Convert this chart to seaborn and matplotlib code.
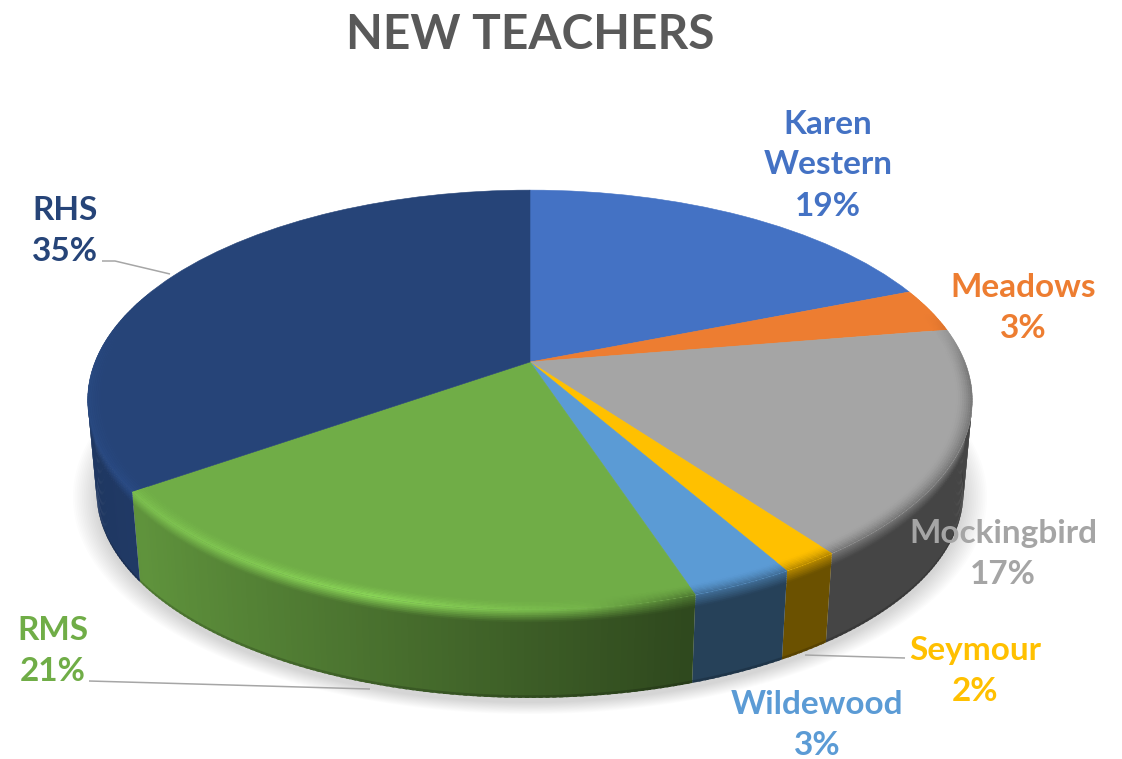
import numpy as np
import matplotlib
matplotlib.use("Agg")
import matplotlib.pyplot as plt
import matplotlib.transforms as mtransforms
from matplotlib.collections import PolyCollection
import seaborn as sns

# --- Data ---
SCHOOLS = ["Karen\nWestern", "Meadows", "Mockingbird", "Seymour", "Wildewood", "RMS", "RHS"]
SHARES = [19.0, 3.4, 17.5, 1.8, 3.2, 20.4, 34.7]
SHARE_LABELS = ["19%", "3%", "17%", "2%", "3%", "21%", "35%"]
COLORS = ["#4472C4", "#ED7D31", "#A5A5A5", "#FFC000", "#5B9BD5", "#70AD47", "#264478"]
TITLE = "NEW TEACHERS"

# label centres, picture pixels
LABEL_X = [828, 1023, 1003, 975, 817, 53, 65]
LABEL_Y = [165, 308, 554, 671, 725, 651, 231]
LEADERS = [
    ([102, 115, 170], [261, 261, 274]),
    ([89, 370], [681, 689]),
    ([805, 905], [655, 658]),
]

# --- Disk geometry, picture pixels ---
CX, CY = 530.0, 362.0
RX, RY, PERSP = 435.0, 203.0, 0.181
BOTTOM_SCALE, BOTTOM_DROP = 0.98, 93.0
BEVEL = 0.035


def disk_to_px(x, y, z=0.0):
    # z=0 is the top face, z=1 the bottom one
    w = 1 + PERSP * y
    px = RX * x / w
    py = -RY * y / w
    scale = 1 - (1 - BOTTOM_SCALE) * z
    return CX + px * scale, CY + py * scale + BOTTOM_DROP * z


class DiskTransform(mtransforms.Transform):
    input_dims = 2
    output_dims = 2
    is_separable = False
    has_inverse = False

    def transform_non_affine(self, values):
        values = np.asarray(values)
        px, py = disk_to_px(values[:, 0], values[:, 1])
        return np.column_stack([px, py])


def lerp(a, b, t):
    return a + (b - a) * t


sns.set_theme(style="white")
plt.rcParams["font.family"] = ["Lato", "DejaVu Sans"]
palette = sns.color_palette(COLORS)

fig, ax = plt.subplots(figsize=(11.22, 7.59), dpi=100)
fig.subplots_adjust(0, 0, 1, 1)

wedges, _ = ax.pie(SHARES, colors=palette, startangle=90, counterclock=False)
ax.set_aspect("auto")
ax.set_xlim(0, 1122)
ax.set_ylim(759, 0)
ax.axis("off")

disk = DiskTransform() + ax.transData
for w, c in zip(wedges, palette):
    w.set_transform(disk)
    w.set_edgecolor(c)
    w.set_linewidth(0.4)
    w.set_zorder(3)

# --- Soft shadow under the disk ---
t = np.radians(np.linspace(0, 360, 361))
for k in range(14):
    grow = 1 + 0.0042 * k
    sx, sy = disk_to_px(np.cos(t), np.sin(t), 1.0)
    sx = CX + (sx - CX) * grow
    sy = CY + 131 + (sy - CY - 131) * grow + 5
    ax.fill(sx, sy, color="#000000", alpha=0.012, lw=0, zorder=1)

# --- Side wall and bevel, cell by cell per wedge ---
# cells overlap the next one a little and are painted in order, so no seams show
ring_steps = np.linspace(0, 1, 9)
wall_steps = np.array([0, 0.02, 0.04, 0.06, 0.08, 0.1, 0.12, 0.14, 0.97, 1.0])
side_polys, side_cols, ring_polys, ring_cols = [], [], [], []

for w, c in zip(wedges, palette):
    c = np.array(c)
    n = max(2, int((w.theta2 - w.theta1) / 0.75))
    th = np.radians(np.linspace(w.theta1, w.theta2, n + 1))
    step = th[1] - th[0]
    for i, (a, b) in enumerate(zip(th[:-1], th[1:])):
        mid = (a + b) / 2
        mx, my = np.cos(mid), np.sin(mid)
        if my > 0.35:
            continue
        if i < n - 1:
            b = b + step * 0.6
        shade = np.interp(mx, [-1, -0.8, 0.3, 1], [0.8, 0.85, 0.42, 0.42])
        side = c * shade
        glow = np.interp(mx, [-0.9, -0.3, 0.1, 0.3], [0.5, 1, 0.6, 0])
        light = np.minimum(c * 1.25, 1)
        rim = lerp(lerp(c, side, 0.5), light, glow)
        fade = np.clip((0.25 - my) / 0.3, 0, 1)

        for r0, r1 in zip(ring_steps[:-1], ring_steps[1:]):
            ra = 1 - BEVEL * (1 - r0)
            rb = 1 - BEVEL * (1 - r1)
            corners = [
                disk_to_px(ra * np.cos(a), ra * np.sin(a)),
                disk_to_px(ra * np.cos(b), ra * np.sin(b)),
                disk_to_px(rb * np.cos(b), rb * np.sin(b)),
                disk_to_px(rb * np.cos(a), rb * np.sin(a)),
            ]
            ring_polys.append(corners)
            ring_cols.append(lerp(c, lerp(c, rim, ((r0 + r1) / 2) ** 1.5), fade))

        # wall cells past the silhouette point away from us
        if my > -0.1:
            continue
        for z0, z1 in zip(wall_steps[:-1], wall_steps[1:]):
            zm = (z0 + z1) / 2
            z1 = min(z1 + 0.01, 1.0)
            corners = [
                disk_to_px(np.cos(a), np.sin(a), z0),
                disk_to_px(np.cos(b), np.sin(b), z0),
                disk_to_px(np.cos(b), np.sin(b), z1),
                disk_to_px(np.cos(a), np.sin(a), z1),
            ]
            col = lerp(rim, side, min(zm / 0.14, 1))
            if zm > 0.97:
                col = col * 0.82
            side_polys.append(corners)
            side_cols.append(col)

ax.add_collection(PolyCollection(side_polys, facecolors=side_cols, edgecolors="none",
                                 linewidths=0, zorder=2))
ax.add_collection(PolyCollection(ring_polys, facecolors=ring_cols, edgecolors="none",
                                 linewidths=0, zorder=4))

# --- Leader lines ---
for lx, ly in LEADERS:
    ax.plot(lx, ly, color="#A6A6A6", lw=1.1, zorder=5, solid_capstyle="butt")

# --- Text ---
ax.text(530, 35, TITLE, ha="center", va="center", fontsize=34.4, fontweight="bold",
        color="#595959", zorder=6)
for name, share, x, y, c in zip(SCHOOLS, SHARE_LABELS, LABEL_X, LABEL_Y, palette):
    ax.text(x, y, f"{name}\n{share}", ha="center", va="center", fontsize=24,
            fontweight="bold", color=c, linespacing=1.5, zorder=6)

plt.savefig("out.png", dpi=100)
plt.close()
